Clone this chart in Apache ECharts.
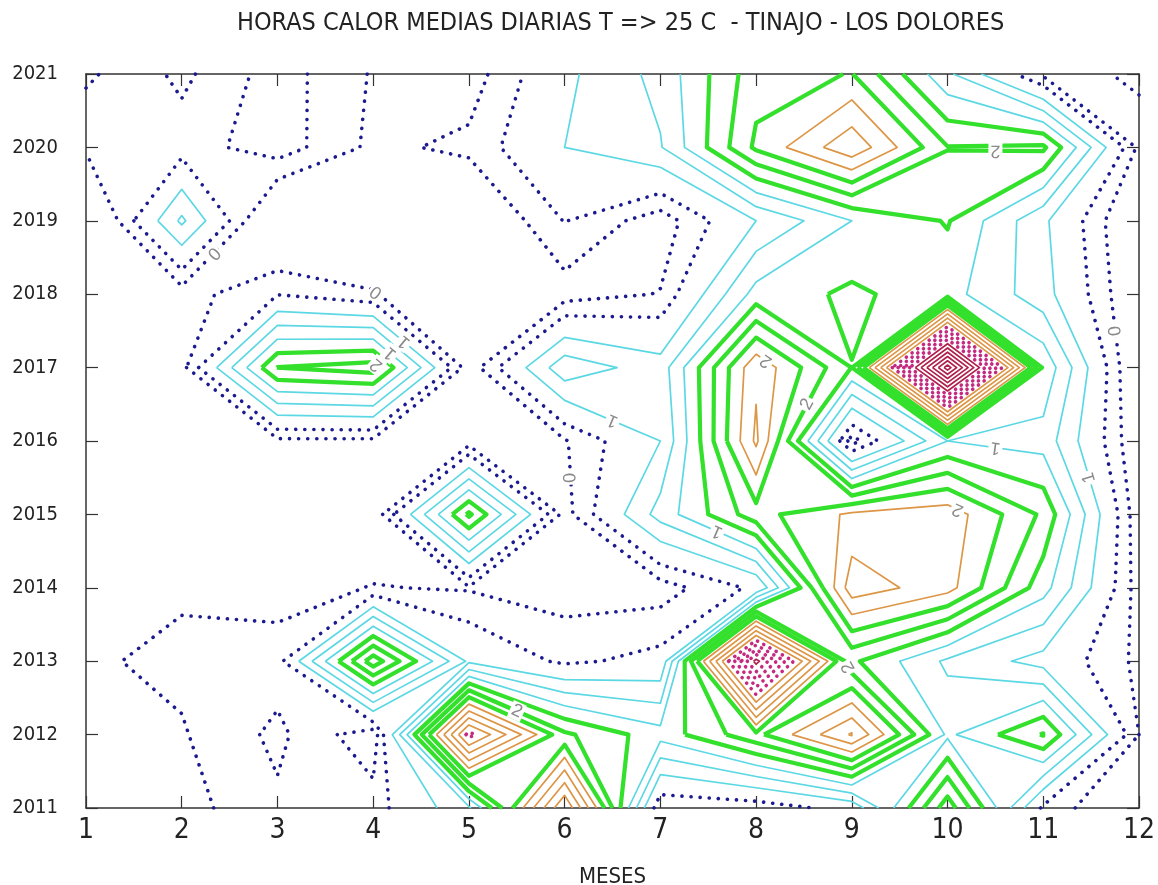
<!DOCTYPE html>
<html><head><meta charset="utf-8">
<script src="https://cdn.jsdelivr.net/npm/echarts@6/dist/echarts.min.js"></script>
<style>html,body{margin:0;padding:0;background:#fff}#c{width:1158px;height:885px}</style>
</head><body><div id="c"></div>
<script>
// ---- data: mean daily hours with T >= 25 C, rows = years, columns = months 1..12 ----
const months = [1,2,3,4,5,6,7,8,9,10,11,12];
const years = [2011,2012,2013,2014,2015,2016,2017,2018,2019,2020,2021];
const h2011 = [-0.3,-0.08, 0.16, 0.1, 0.7, 3.0, 0.0, 0.05, 0.3, 1.9, 0.15,-0.3];
const h2012 = [-0.3,-0.02, 0.25,-0.15,3.1, 1.55,1.1, 1.68, 2.53,0.95,1.52, 0.0];
const h2013 = [-0.03,0.05, 0.1, 1.9, 0.45, 0.15,0.28,4.1, 1.3, 0.7, 0.4,-0.05];
const h2014 = [-0.3,-0.03,-0.09,0.01,-0.02,-0.1,-0.1, 0.25, 2.4, 2.1, 1.1,-0.1];
const h2015 = [-0.5,-0.5,-0.4,-0.17, 1.55,-0.08,0.85,1.65, 2.05,2.15,1.45,-0.15];
const h2016 = [-0.5,-0.3,-0.05,-0.05,-0.1,-0.02, 0.5, 2.3,-0.1, 1.0, 0.9,-0.2];
const h2017 = [-0.4,-0.08,1.51,1.62,-0.12,0.92,0.61,2.2, 1.244,5.4,1.2,-0.3];
const h2018 = [-0.5,-0.1, 0.19,0.02,-0.3,-0.1, 0.01,1.1, 1.3, 1.1, 0.6,-0.25];
const h2019 = [-0.4, 0.8,-0.4,-0.3,-0.3, 0.21,-0.12,0.5, 1.0, 1.27,0.55,-0.3];
const h2020 = [ 0.03,0.1, 0.31,-0.05,0.05,0.5, 0.73,1.8, 2.44,1.51,1.55,-0.05];
const h2021 = [ 0.24,-0.05,0.3,-0.02,-0.11,0.44,0.83,1.65,1.76,0.8,-0.05,0.02];
const levels = [0,0.2,0.5,0.75,1,1.25,1.5,1.75,2,2.25,2.5,2.75,3,3.25,3.5,3.75,4,4.25,4.5,4.75,5,5.25];
const levelLabels = ['0','','1','','1','','2','','2','','','','','','','','','','','','',''];
const xTicks = months;
const yTicks = years;
const titleText = 'HORAS CALOR MEDIAS DIARIAS T => 25 C  - TINAJO - LOS DOLORES';
const xName = 'MESES';

const Z = [h2011,h2012,h2013,h2014,h2015,h2016,h2017,h2018,h2019,h2020,h2021];

// ---- marching squares (saddles resolved by keeping high corners apart) ----
function contour(z, xs, ys, L) {
  const ny = z.length, nx = z[0].length;
  const pt = {}, segs = [];
  const hk = (i,j) => { const k='h'+i+'_'+j; if(!(k in pt)){const a=z[j][i],b=z[j][i+1];const t=(L-a)/(b-a);pt[k]=[xs[i]+t*(xs[i+1]-xs[i]),ys[j]];} return k; };
  const vk = (i,j) => { const k='v'+i+'_'+j; if(!(k in pt)){const a=z[j][i],b=z[j+1][i];const t=(L-a)/(b-a);pt[k]=[xs[i],ys[j]+t*(ys[j+1]-ys[j])];} return k; };
  for (let j=0;j<ny-1;j++) for (let i=0;i<nx-1;i++) {
    const a=z[j][i], b=z[j][i+1], c=z[j+1][i+1], d=z[j+1][i];
    const code=(a>=L?1:0)|(b>=L?2:0)|(c>=L?4:0)|(d>=L?8:0);
    if(code===0||code===15) continue;
    const B=()=>hk(i,j), R=()=>vk(i+1,j), T=()=>hk(i,j+1), Lf=()=>vk(i,j);
    switch(code){
      case 1: case 14: segs.push([Lf(),B()]); break;
      case 2: case 13: segs.push([B(),R()]); break;
      case 3: case 12: segs.push([Lf(),R()]); break;
      case 4: case 11: segs.push([R(),T()]); break;
      case 6: case 9: segs.push([B(),T()]); break;
      case 7: case 8: segs.push([Lf(),T()]); break;
      case 5: segs.push([Lf(),B()]); segs.push([R(),T()]); break;
      case 10: segs.push([B(),R()]); segs.push([Lf(),T()]); break;
    }
  }
  const adj = {};
  segs.forEach((s,idx)=>{ s.forEach(k=>{ (adj[k]=adj[k]||[]).push(idx); }); });
  const used = new Array(segs.length).fill(false);
  const lines = [];
  const walk = (start) => {
    let cur = segs[start][0];
    let k = cur, prevSeg = start, guard=0;
    while(guard++<10000){ const others=(adj[k]||[]).filter(s=>s!==prevSeg && !used[s]); if(others.length===0) break; const s=others[0]; if(s===start) break; const nk = segs[s][0]===k?segs[s][1]:segs[s][0]; prevSeg=s; k=nk; if(k===cur) break; }
    const chain=[]; let kk=k; let seg=(adj[kk]||[]).find(s=>!used[s]);
    chain.push(kk);
    while(seg!==undefined){ used[seg]=true; const nk = segs[seg][0]===kk?segs[seg][1]:segs[seg][0]; chain.push(nk); kk=nk; seg=(adj[kk]||[]).find(s=>!used[s]); }
    return chain.map(q=>pt[q]);
  };
  for(let s=0;s<segs.length;s++){ if(!used[s]) lines.push(walk(s)); }
  return lines;
}

function styleFor(L){
  if(L<0.5) return {color:'#1b1b8f',width:3.6,type:[0.1,9],cap:'round'};
  if(L<1.25) return {color:'#5cd8e4',width:1.7,type:'solid'};
  if(L<2.0) return {color:'#33e02b',width:4.2,type:'solid'};
  if(L<3.0) return {color:'#dd9645',width:1.7,type:'solid'};
  if(L<4.0) return {color:'#c42a80',width:3.6,type:[0.1,7],cap:'round'};
  return {color:'#b0204c',width:1.7,type:'solid'};
}

const series=[]; const labelData=[];
levels.forEach((L,li)=>{
  const lines=contour(Z, months, years, L);
  lines.forEach(pl=>{
    if(pl.length<2) return;
    const st=styleFor(L);
    series.push({type:'line',data:pl,showSymbol:false,symbol:'none',silent:true,animation:false,z:2,
      lineStyle:{color:st.color,width:st.width,type:st.type,cap:st.cap||'butt',join:'round'},clip:true});
    if(levelLabels[li] && pl.length>=7){
      const m=Math.floor((pl.length-1)/2);
      labelData.push([pl[m][0],pl[m][1],pl[m+1][0],pl[m+1][1],li]);
    }
  });
});

series.push({type:'custom',coordinateSystem:'cartesian2d',data:labelData,z:5,silent:true,animation:false,
  renderItem:(params,api)=>{
    const p1=api.coord([api.value(0),api.value(1)]), p2=api.coord([api.value(2),api.value(3)]);
    const cx=(p1[0]+p2[0])/2, cy=(p1[1]+p2[1])/2;
    let ang=Math.atan2(-(p2[1]-p1[1]),p2[0]-p1[0]);
    return {type:'text',x:cx,y:cy,rotation:ang,style:{text:levelLabels[api.value(4)],fill:'#8a8a8a',
      font:'18px "Liberation Sans Narrow","Liberation Sans",sans-serif',align:'center',verticalAlign:'middle',
      backgroundColor:'#fff',padding:[0,2]}};
  }});

const fontF='"Liberation Sans Narrow","DejaVu Sans Condensed","Liberation Sans",sans-serif';
const axisCommon={axisLine:{show:true,lineStyle:{color:'#333',width:1.5}},splitLine:{show:false},axisTick:{show:true,inside:true,length:12,lineStyle:{color:'#333',width:1.2}}};
const chart=echarts.init(document.getElementById('c'),null,{renderer:'canvas'});
chart.setOption({
  backgroundColor:'#fff',
  animation:false,
  title:{text:titleText,left:232,top:6,textStyle:{fontFamily:fontF,fontWeight:'normal',fontSize:25,color:'#222'}},
  grid:{left:86,right:19,top:74,bottom:77,containLabel:false,outerBoundsMode:'none'},
  xAxis:[
    Object.assign({type:'value',min:1,max:12,interval:1,position:'bottom',name:xName,nameLocation:'middle',nameGap:58,
      nameTextStyle:{fontFamily:fontF,fontSize:22,color:'#222'},
      axisLabel:{margin:9,fontFamily:fontF,fontSize:28,color:'#222',formatter:v=>xTicks.includes(v)?String(v):''}},axisCommon),
    Object.assign({type:'value',min:1,max:12,interval:1,position:'top',axisLabel:{show:false}},axisCommon)
  ],
  yAxis:[
    Object.assign({type:'value',min:2011,max:2021,interval:1,position:'left',
      axisLabel:{margin:28,fontFamily:fontF,fontSize:20,color:'#222',formatter:v=>yTicks.includes(v)?String(v):''}},axisCommon),
    Object.assign({type:'value',min:2011,max:2021,interval:1,position:'right',axisLabel:{show:false}},axisCommon)
  ],
  series:series
});
</script></body></html>
